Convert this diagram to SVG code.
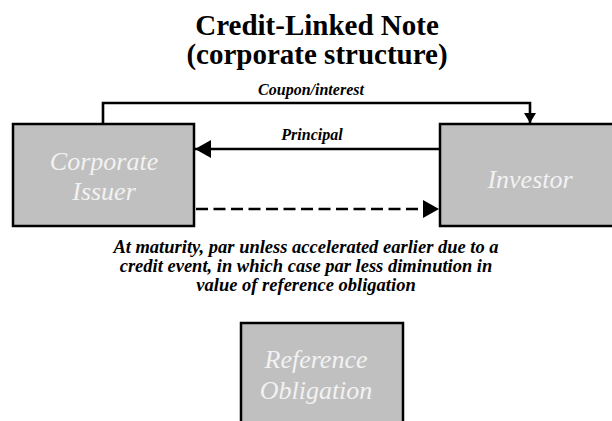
<svg xmlns="http://www.w3.org/2000/svg" width="612" height="421" viewBox="0 0 612 421">
  <style>
    text { font-family: 'Liberation Serif', 'Times New Roman', Times, serif; }
    .box { fill: #c0c0c0; stroke: #000; stroke-width: 2.5; }
    .boxtext { font-style: italic; font-size: 26px; fill: #f2f2f2; text-anchor: middle; }
    .title { font-weight: bold; font-size: 29px; fill: #000; text-anchor: middle; }
    .label { font-weight: bold; font-style: italic; font-size: 16px; fill: #000; text-anchor: middle; }
    .note { font-weight: bold; font-style: italic; font-size: 18.5px; fill: #000; text-anchor: middle; }
    .line { fill: none; stroke: #000; stroke-width: 2.6; }
    .dash { stroke-dasharray: 12 5.5; }
  </style>
  <defs>
    <marker id="arrow" viewBox="0 0 16 18" refX="16" refY="9" markerWidth="16" markerHeight="18" markerUnits="userSpaceOnUse" orient="auto">
      <path d="M0,0 L16,9 L0,18 Z" fill="#000"/>
    </marker>
    <marker id="arrowSmall" viewBox="0 0 10 12" refX="10" refY="6" markerWidth="10" markerHeight="12" markerUnits="userSpaceOnUse" orient="auto">
      <path d="M0,0 L10,6 L0,12 Z" fill="#000"/>
    </marker>
  </defs>

  <g id="title">
    <text class="title" x="317" y="35">Credit-Linked Note</text>
    <text class="title" x="317" y="64">(corporate structure)</text>
  </g>

  <g id="corporate-issuer">
    <rect class="box" x="13" y="124" width="181" height="102"/>
    <text class="boxtext" x="104" y="170">Corporate</text>
    <text class="boxtext" x="104" y="200">Issuer</text>
  </g>

  <g id="investor">
    <rect class="box" x="440" y="124" width="180" height="102"/>
    <text class="boxtext" x="530" y="188">Investor</text>
  </g>

  <g id="reference-obligation">
    <rect class="box" x="241" y="323" width="162" height="110"/>
    <text class="boxtext" x="316" y="368">Reference</text>
    <text class="boxtext" x="316" y="399">Obligation</text>
  </g>

  <g id="connectors">
    <polyline class="line" points="103,124 103,103 530,103 530,123" marker-end="url(#arrowSmall)"/>
    <line class="line" x1="440" y1="149" x2="195" y2="149" marker-end="url(#arrow)"/>
    <line class="line dash" x1="196" y1="209" x2="439" y2="209" marker-end="url(#arrow)"/>
  </g>

  <g id="labels">
    <text class="label" x="311" y="95">Coupon/interest</text>
    <text class="label" x="312" y="140">Principal</text>
    <text class="note" x="306" y="253">At maturity, par unless accelerated earlier due to a</text>
    <text class="note" x="306" y="272">credit event, in which case par less diminution in</text>
    <text class="note" x="306" y="291">value of reference obligation</text>
  </g>
</svg>
